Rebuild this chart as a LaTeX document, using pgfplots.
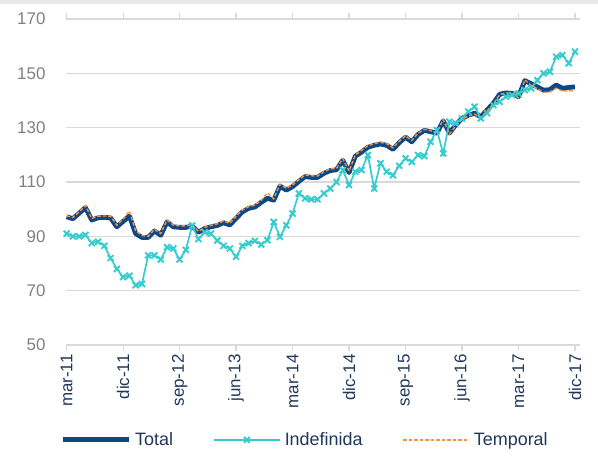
\documentclass[border=0pt]{standalone}
\usepackage{pgfplots}
\pgfplotsset{compat=1.18}
\usepackage{fontspec}
\setmainfont{Liberation Sans}
\definecolor{totalc}{RGB}{12,72,135}
\definecolor{indefc}{RGB}{52,204,206}
\definecolor{tempc}{RGB}{247,146,62}
\definecolor{gridc}{RGB}{217,217,217}
\definecolor{ylab}{RGB}{128,128,128}
\definecolor{xlab}{RGB}{31,56,90}
\begin{document}
\begin{tikzpicture}
\fill[gridc!60] (-66bp,341bp) rectangle (532bp,345bp);
\path[use as bounding box] (-66bp,-112bp) rectangle (532bp,345bp);
\begin{axis}[
  at={(0,0)}, anchor=south west,
  width=514bp, height=326bp, scale only axis,
  xmin=-0.1, xmax=81.8, ymin=50, ymax=170,
  ytick={50,70,...,170},
  xtick={0,9,...,81},
  xticklabels={mar-11,dic-11,sep-12,jun-13,mar-14,dic-14,sep-15,jun-16,mar-17,dic-17},
  axis line style={draw=none},
  ymajorgrids, grid style={gridc, line width=1.3bp},
  tick align=outside, major tick length=6bp,
  xtick style={gridc, line width=1.2bp},
  ytick style={draw=none},
  /pgf/number format/assume math mode=true,
  yticklabel style={font=\fontsize{17}{20}\selectfont, text=ylab, xshift=-11bp},
  xticklabel style={font=\fontsize{17}{20}\selectfont, text=xlab, rotate=90, anchor=east},
  legend columns=3,
  legend style={at={(axis description cs:0.467,-0.291)}, anchor=center, draw=none,
    font=\fontsize{18}{21}\selectfont, text=xlab,
    nodes={inner xsep=4bp},
    /tikz/every even column/.append style={column sep=36bp}},
  legend image code/.code={\draw[mark repeat=2,mark phase=2,#1] plot coordinates {(0bp,0bp) (33bp,0bp) (66bp,0bp)};},
]
\addplot[totalc, line width=4.8bp, line join=round] coordinates {
(0,97.2)(1,96.5)(2,98.5)(3,100.6)(4,96)(5,96.8)(6,97)(7,96.8)(8,93.5)(9,95.5)
(10,97.5)(11,91)(12,89.6)(13,89.6)(14,92)(15,90.4)(16,95.3)(17,93.5)(18,93.3)(19,93.3)
(20,93.8)(21,91.5)(22,92.9)(23,93.5)(24,94)(25,95)(26,94.2)(27,96.6)(28,99)(29,100.3)
(30,100.8)(31,102.5)(32,104)(33,103.3)(34,108.5)(35,107)(36,108.3)(37,110.2)(38,112)(39,111.7)
(40,111.7)(41,113.2)(42,114.2)(43,114.5)(44,118)(45,113.5)(46,119.5)(47,121)(48,122.8)(49,123.5)
(50,124)(51,123.5)(52,122)(53,124.5)(54,126.5)(55,124.8)(56,127.5)(57,129)(58,128.5)(59,128)
(60,132.5)(61,128)(62,131)(63,133.4)(64,134.6)(65,135.3)(66,134)(67,136.5)(68,139)(69,142.3)
(70,142.8)(71,142.6)(72,141.4)(73,147.3)(74,146.2)(75,145)(76,143.8)(77,144)(78,145.7)(79,144.5)
(80,144.8)(81,145)};
\addlegendentry{Total}
\addplot[indefc, line width=1.7bp, mark=x, mark size=4.2bp, mark options={line width=1.9bp}] coordinates {
(0,91)(1,90)(2,90)(3,90.5)(4,87.5)(5,88)(6,86.5)(7,82)(8,78)(9,75)
(10,75.5)(11,72)(12,72.5)(13,83)(14,83)(15,81.5)(16,86)(17,85.5)(18,81.5)(19,85)
(20,94)(21,89)(22,91.5)(23,91)(24,88.5)(25,86.5)(26,85.5)(27,82.5)(28,86.5)(29,87.5)
(30,88.3)(31,87)(32,88.6)(33,95.3)(34,89.8)(35,94.1)(36,98.4)(37,105.8)(38,104)(39,103.6)
(40,103.6)(41,105.8)(42,107.6)(43,110)(44,114.4)(45,108.9)(46,113.8)(47,114.4)(48,119.9)(49,107.6)
(50,116.9)(51,113.8)(52,112.5)(53,116)(54,118.7)(55,117.4)(56,119.9)(57,119.5)(58,124.8)(59,129.1)
(60,120.5)(61,132.2)(62,131.6)(63,133.4)(64,135.9)(65,137.7)(66,133.4)(67,135.3)(68,138.3)(69,139.5)
(70,141.4)(71,142)(72,142.6)(73,143.8)(74,144.5)(75,147.5)(76,150)(77,150.6)(78,156.1)(79,156.7)
(80,153.7)(81,158)};
\addlegendentry{Indefinida}
\addplot[tempc, line width=1.4bp, dash pattern=on 3.5bp off 2bp] coordinates {
(0,97.6)(1,96.9)(2,99.0)(3,101.3)(4,96.6)(5,97.4)(6,97.5)(7,97.4)(8,94.1)(9,96.3)
(10,99.3)(11,92.0)(12,90.3)(13,90.0)(14,92.6)(15,91.0)(16,96.0)(17,94.1)(18,93.9)(19,93.8)
(20,94.4)(21,91.8)(22,93.3)(23,94.0)(24,94.6)(25,95.6)(26,94.8)(27,97.3)(28,99.7)(29,100.9)
(30,101.5)(31,103.2)(32,106.0)(33,103.8)(34,109.2)(35,107.7)(36,108.9)(37,110.8)(38,112.6)(39,112.3)
(40,112.2)(41,113.8)(42,114.8)(43,115.0)(44,118.6)(45,114.0)(46,120.0)(47,121.6)(48,123.4)(49,124.1)
(50,124.6)(51,124.1)(52,122.6)(53,125.0)(54,127.0)(55,125.3)(56,128.0)(57,129.4)(58,128.9)(59,128.3)
(60,133.0)(61,127.6)(62,130.6)(63,133.0)(64,134.3)(65,135.0)(66,133.7)(67,136.2)(68,138.8)(69,142.2)
(70,142.8)(71,142.5)(72,141.0)(73,147.6)(74,145.6)(75,144.3)(76,143.0)(77,143.2)(78,144.5)(79,143.5)
(80,143.6)(81,143.5)};
\addlegendentry{Temporal}
\end{axis}
\end{tikzpicture}
\end{document}
